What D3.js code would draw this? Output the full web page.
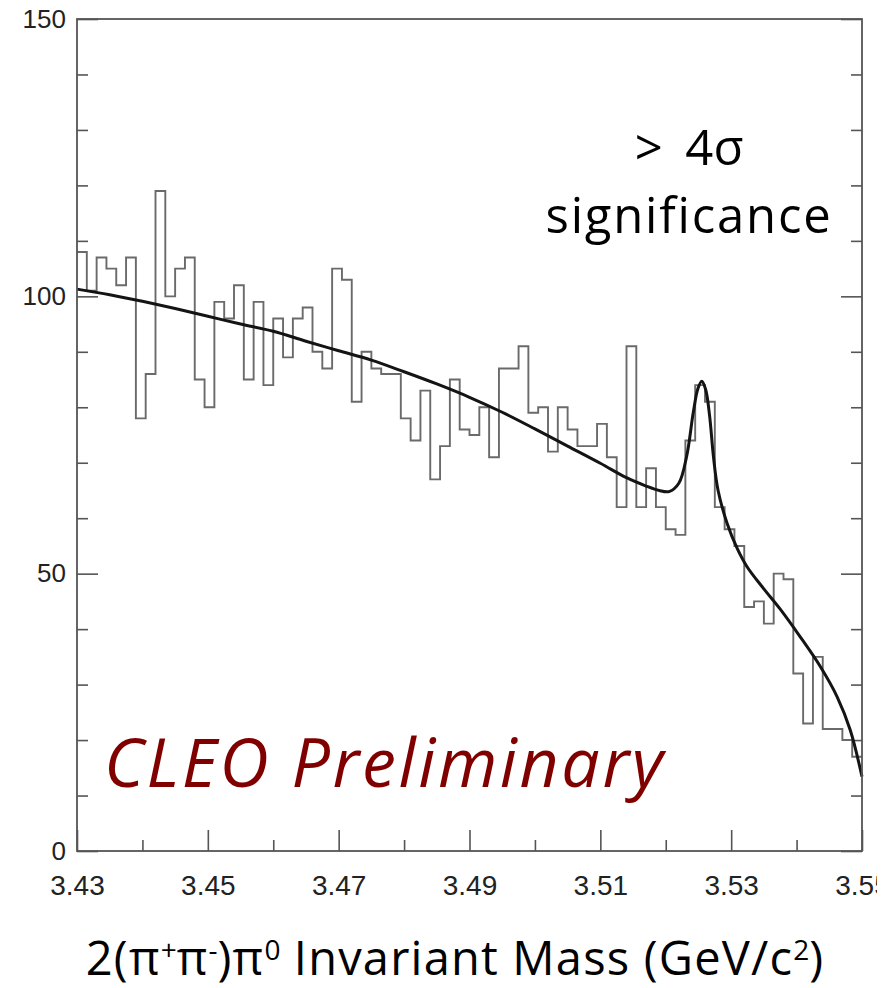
<!DOCTYPE html>
<html>
<head>
<meta charset="utf-8">
<script src="https://cdn.jsdelivr.net/npm/d3@7"></script>
<style>
  html, body { margin: 0; padding: 0; background: #fff; }
  svg { display: block; }
</style>
</head>
<body>
<svg id="chart" width="893" height="988"></svg>
<script>
// Histogram: 80 bins of 1.5 MeV from 3.430 to 3.550 GeV/c^2
const binStart = 3.43;
const binWidth = 0.0015;
const counts = [
  108, 101, 107, 105, 102, 107, 78, 86, 119, 100,
  105, 107, 85, 80, 99, 96, 102, 85, 99, 84,
  96, 89, 96, 98, 90, 87, 105, 103, 81, 90,
  87, 86, 86, 78, 74, 83, 67, 73, 85, 76,
  75, 80, 71, 87, 87, 91, 79, 80, 72, 80,
  76, 73, 73, 77, 71, 62, 91, 62, 69, 62,
  58, 57, 74, 84, 81, 62, 58, 55, 44, 45,
  41, 50, 49, 32, 23, 35, 22, 22, 20, 17
];

// Fit curve (smooth background + signal peak), sampled as (mass, events)
const fitMass = [
  3.430, 3.435, 3.440, 3.445, 3.450, 3.455, 3.460, 3.465, 3.470, 3.475,
  3.480, 3.485, 3.490, 3.495, 3.500, 3.505, 3.510, 3.514, 3.517, 3.519,
  3.5205, 3.5220, 3.5232, 3.5242, 3.5249, 3.5255, 3.5261, 3.5267, 3.5273, 3.5280,
  3.5294, 3.5309, 3.5324, 3.5349, 3.5375, 3.5405, 3.5436, 3.5462, 3.5482, 3.5500
];
const fitValue = [
  101.3, 100.3, 99.1, 97.8, 96.4, 95.0, 93.7, 91.9, 90.2, 88.5,
  86.4, 84.2, 81.8, 79.1, 76.1, 73.0, 69.9, 67.3, 65.8, 65.0,
  64.8, 66.3, 71.2, 79.0, 83.3, 84.7, 83.2, 78.5, 71.0, 65.0,
  59.0, 54.6, 51.3, 47.4, 43.6, 38.7, 33.3, 27.8, 21.8, 13.4
];

// Axis ticks
const xMajorTicks = [3.43, 3.45, 3.47, 3.49, 3.51, 3.53, 3.55];
const xMinorTicks = [3.44, 3.46, 3.48, 3.50, 3.52, 3.54];
const yMajorTicks = [0, 50, 100, 150];
const yMinorTicks = [10, 20, 30, 40, 60, 70, 80, 90, 110, 120, 130, 140];

const svg = d3.select("#chart");
const plotLeft = 77, plotRight = 862, plotTop = 19, plotBottom = 851;

const x = d3.scaleLinear().domain([3.43, 3.55]).range([plotLeft, plotRight]);
const y = d3.scaleLinear().domain([0, 150]).range([plotBottom, plotTop]);

const frameColor = "#555";

// Clip for the tick labels (the last label runs off the page edge)
svg.append("defs").append("clipPath").attr("id", "labelClip")
  .append("rect").attr("x", 0).attr("y", 0).attr("width", 877).attr("height", 988);

// Axes with inward ticks
function styleAxis(g) {
  g.select(".domain").remove();
  g.selectAll(".tick line").attr("stroke", frameColor).attr("stroke-width", 1.6);
  g.selectAll(".tick text").attr("fill", "#222")
    .attr("font-family", "'Liberation Sans', Arial, sans-serif");
}

svg.append("g").attr("clip-path", "url(#labelClip)")
  .append("g").attr("transform", `translate(0,${plotBottom})`)
  .call(d3.axisBottom(x).tickValues(xMajorTicks).tickFormat(d3.format(".2f"))
    .tickSizeInner(-21).tickSizeOuter(0).tickPadding(24))
  .call(styleAxis)
  .call(g => g.selectAll(".tick text").attr("font-size", 28));

svg.append("g").attr("transform", `translate(0,${plotBottom})`)
  .call(d3.axisBottom(x).tickValues(xMinorTicks).tickFormat("")
    .tickSizeInner(-11).tickSizeOuter(0))
  .call(styleAxis);

svg.append("g").attr("transform", `translate(${plotLeft},0)`)
  .call(d3.axisLeft(y).tickValues(yMajorTicks).tickFormat(d3.format("d"))
    .tickSizeInner(-21).tickSizeOuter(0).tickPadding(11))
  .call(styleAxis)
  .call(g => g.selectAll(".tick text").attr("font-size", 26));

svg.append("g").attr("transform", `translate(${plotLeft},0)`)
  .call(d3.axisLeft(y).tickValues(yMinorTicks).tickFormat("")
    .tickSizeInner(-11).tickSizeOuter(0))
  .call(styleAxis);

svg.append("g").attr("transform", `translate(${plotRight},0)`)
  .call(d3.axisRight(y).tickValues(yMajorTicks).tickFormat("")
    .tickSizeInner(-21).tickSizeOuter(0))
  .call(styleAxis);

svg.append("g").attr("transform", `translate(${plotRight},0)`)
  .call(d3.axisRight(y).tickValues(yMinorTicks).tickFormat("")
    .tickSizeInner(-11).tickSizeOuter(0))
  .call(styleAxis);

// Histogram drawn as a step outline
const histPoints = counts.map((c, i) => [binStart + i * binWidth, c]);
histPoints.push([binStart + counts.length * binWidth, counts[counts.length - 1]]);

svg.append("path")
  .datum(histPoints)
  .attr("fill", "none")
  .attr("stroke", "#6a6a6a")
  .attr("stroke-width", 1.9)
  .attr("d", d3.line().x(d => x(d[0])).y(d => y(d[1])).curve(d3.curveStepAfter));

// Fit curve
const fitPoints = fitMass.map((m, i) => [m, fitValue[i]]);
svg.append("path")
  .datum(fitPoints)
  .attr("fill", "none")
  .attr("stroke", "#141414")
  .attr("stroke-width", 3)
  .attr("stroke-linejoin", "round")
  .attr("d", d3.line().x(d => x(d[0])).y(d => y(d[1])).curve(d3.curveCatmullRom.alpha(0.5)));

// Frame
svg.append("rect")
  .attr("x", plotLeft).attr("y", plotTop)
  .attr("width", plotRight - plotLeft).attr("height", plotBottom - plotTop)
  .attr("fill", "none").attr("stroke", frameColor).attr("stroke-width", 1.8);

// Significance annotation
const annoFont = "'Open Sans', 'Noto Sans', sans-serif";
svg.append("text")
  .attr("x", 689).attr("y", 165)
  .attr("text-anchor", "middle")
  .attr("font-family", annoFont).attr("font-size", 49)
  .attr("word-spacing", 10)
  .attr("fill", "#000")
  .text("> 4σ");
svg.append("text")
  .attr("x", 689).attr("y", 233)
  .attr("text-anchor", "middle")
  .attr("font-family", annoFont).attr("font-size", 49)
  .attr("letter-spacing", 1.8)
  .attr("fill", "#000")
  .text("significance");

svg.append("text")
  .attr("x", 104).attr("y", 787)
  .attr("font-family", annoFont).attr("font-size", 68)
  .attr("font-style", "italic")
  .attr("letter-spacing", 2.6)
  .attr("fill", "#800000")
  .text("CLEO Preliminary");

// X-axis title with superscripts
const title = svg.append("text")
  .attr("x", 455).attr("y", 975)
  .attr("text-anchor", "middle")
  .attr("font-family", annoFont).attr("font-size", 47)
  .attr("letter-spacing", 1.2)
  .attr("fill", "#000");
const parts = [
  ["2(π", 0], ["+", 1], ["π", 0], ["-", 1], [")π", 0], ["0", 1],
  [" Invariant Mass (GeV/c", 0], ["2", 1], [")", 0]
];
parts.forEach(([t, sup]) => {
  const ts = title.append("tspan").text(t);
  if (sup) ts.attr("font-size", 28).attr("baseline-shift", "55%").attr("letter-spacing", 0);
});
</script>
</body>
</html>
